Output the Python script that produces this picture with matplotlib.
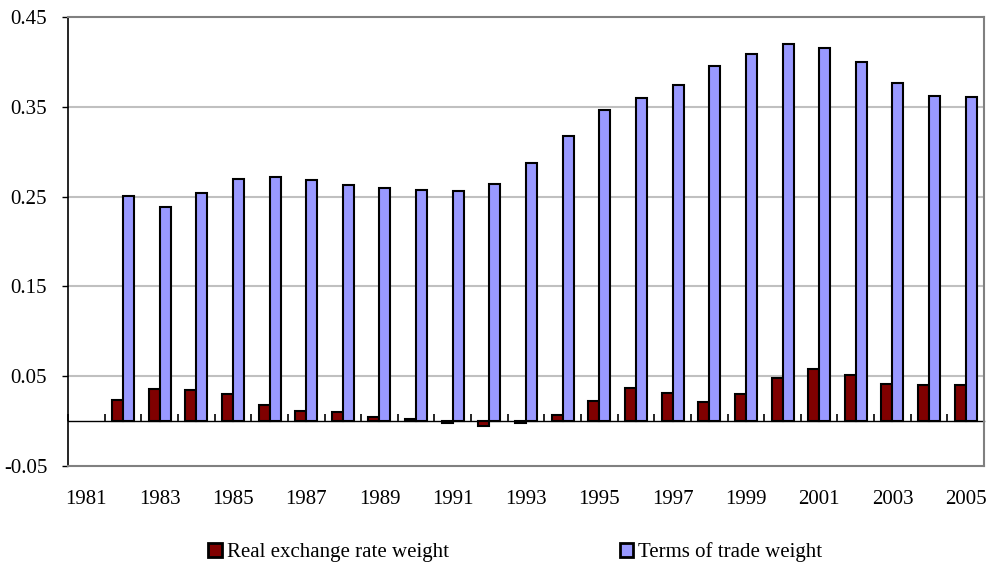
import numpy as np
import matplotlib
matplotlib.use("Agg")
import matplotlib.pyplot as plt

plt.rcParams['font.family'] = ['Liberation Serif', 'DejaVu Serif']

# data (1981 has no bars)
years = list(range(1981, 2006))
rer_weight = [np.nan, 0.024, 0.036, 0.0345, 0.030, 0.0174, 0.0115, 0.010, 0.0048, 0.002,
              -0.002, -0.005, -0.002, 0.007, 0.0226, 0.037, 0.0308, 0.0207, 0.0296,
              0.048, 0.058, 0.051, 0.041, 0.040, 0.040]
tot_weight = [np.nan, 0.251, 0.238, 0.254, 0.270, 0.272, 0.268, 0.263, 0.260, 0.257,
              0.256, 0.264, 0.288, 0.318, 0.346, 0.360, 0.374, 0.395, 0.409,
              0.420, 0.416, 0.400, 0.377, 0.362, 0.361]
series_names = ["Real exchange rate weight", "Terms of trade weight"]
yticks = [-0.05, 0.05, 0.15, 0.25, 0.35, 0.45]

fig = plt.figure(figsize=(9.93, 5.71), dpi=100)
ax = fig.add_axes([0.0685, 0.184, 0.9225, 0.786])

x = np.arange(len(years))
w = 0.3
ax.bar(x - w/2, rer_weight, w, color="#800000", edgecolor="black", linewidth=1.5,
       label=series_names[0], zorder=3)
ax.bar(x + w/2, tot_weight, w, color="#9999FF", edgecolor="black", linewidth=1.5,
       label=series_names[1], zorder=3)

ymin, ymax = -0.05, 0.45
ax.set_ylim(ymin, ymax)
ax.set_xlim(-0.5, len(years) - 0.5)

# y axis
ax.set_yticks(yticks)
ax.set_yticklabels(["%.2f" % v for v in yticks], fontsize=15)
ax.tick_params(axis="y", direction="out", length=4, width=1, pad=11)
for v in yticks[1:-1]:
    ax.axhline(v, color="#c0c0c0", linewidth=1.5, zorder=1)

# x labels at the bottom, odd years only
ax.set_xticks(x)
ax.set_xticklabels([str(y) if y % 2 == 1 else "" for y in years], fontsize=15)
ax.tick_params(axis="x", length=0, pad=17)

# category axis on the zero line with tick marks between categories
loc = (0 - ymin) / (ymax - ymin)
sec = ax.secondary_xaxis(loc)
sec.set_xticks(np.arange(len(years) + 1) - 0.5)
sec.set_xticklabels([])
sec.tick_params(direction="in", length=5, width=1.2)
sec.spines["bottom"].set_linewidth(1)
sec.spines["bottom"].set_color("black")

ax.spines["left"].set_color("black")
ax.spines["left"].set_linewidth(1.2)
for s in ["top", "right", "bottom"]:
    ax.spines[s].set_color("#808080")
    ax.spines[s].set_linewidth(1.5)

leg = fig.legend(loc="center", bbox_to_anchor=(0.519, 0.033), ncol=2, frameon=False,
                 fontsize=15, handlelength=0.65, handleheight=0.65, handletextpad=0.25,
                 columnspacing=8.2)
for h in leg.legend_handles:
    h.set_linewidth(2)

fig.savefig("out.png", dpi=100)
